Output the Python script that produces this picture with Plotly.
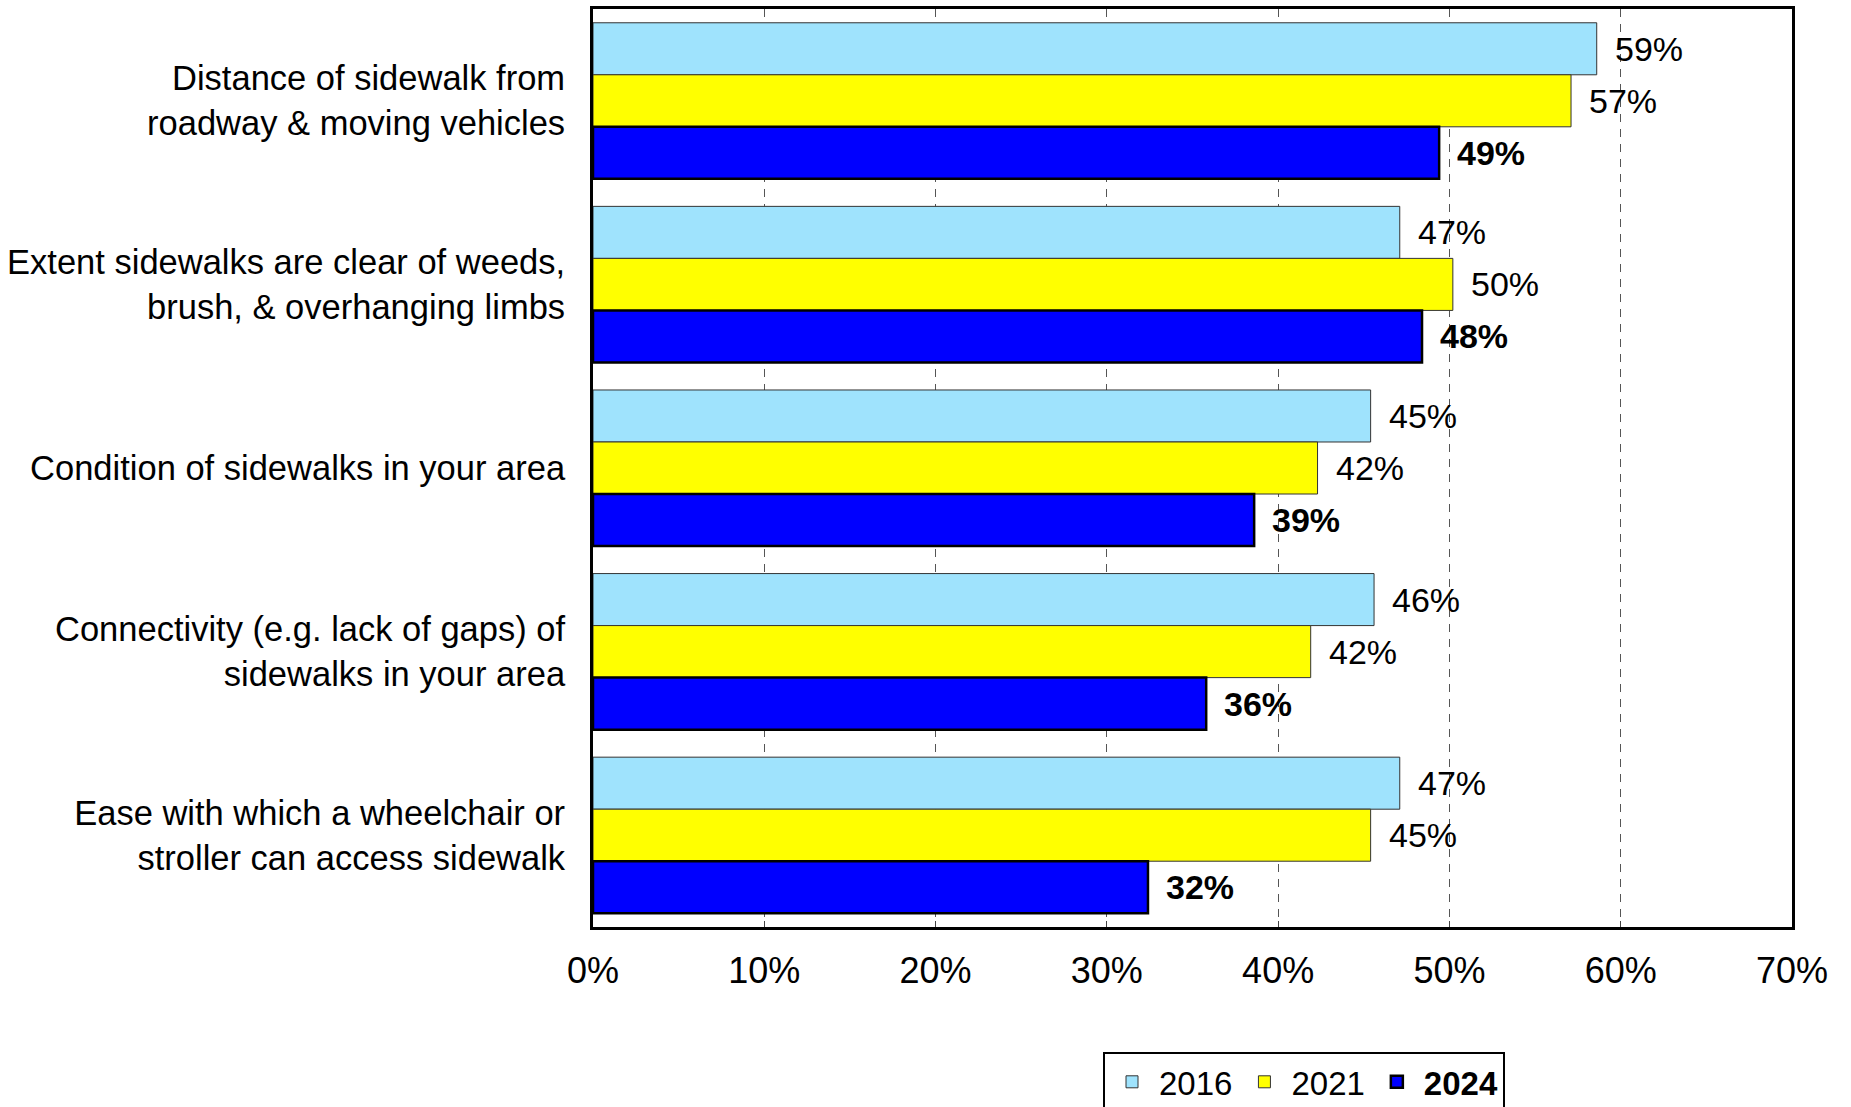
import plotly.graph_objects as go

# Survey items (top to bottom) and satisfaction shares by survey year
categories = [
    "Distance of sidewalk from<br>roadway & moving vehicles",
    "Extent sidewalks are clear of weeds,<br>brush, & overhanging limbs",
    "Condition of sidewalks in your area",
    "Connectivity (e.g. lack of gaps) of<br>sidewalks in your area",
    "Ease with which a wheelchair or<br>stroller can access sidewalk",
]
values_2016 = [58.6, 47.1, 45.4, 45.6, 47.1]
values_2021 = [57.1, 50.2, 42.3, 41.9, 45.4]
values_2024 = [49.4, 48.4, 38.6, 35.8, 32.4]

x_ticks = [0, 10, 20, 30, 40, 50, 60, 70]
x_tick_labels = ["0%", "10%", "20%", "30%", "40%", "50%", "60%", "70%"]

series = [
    ("2016", values_2016, "#9FE3FD", "#333333", 1, False),
    ("2021", values_2021, "#FFFF00", "#333333", 1, False),
    ("2024", values_2024, "#0000FF", "#000000", 2.5, True),
]

FONT = "Liberation Sans, Arial, sans-serif"
BAR_GAP = 0.15
slot = (1 - BAR_GAP) / len(series)

fig = go.Figure()
annotations = []
for i, (name, vals, fill, edge, edge_w, bold) in enumerate(series):
    fig.add_trace(go.Bar(
        name=f"<b>{name}</b>" if bold else name,
        y=categories,
        x=vals,
        orientation="h",
        marker=dict(color=fill, line=dict(color=edge, width=edge_w)),
        hoverinfo="skip",
    ))
    offset = (i - (len(series) - 1) / 2) * slot
    for j, v in enumerate(vals):
        txt = f"{v:.0f}%"
        annotations.append(dict(
            x=v, y=j + offset, xref="x", yref="y",
            text=f"<b>{txt}</b>" if bold else txt,
            showarrow=False, xanchor="left", yanchor="middle",
            xshift=16,
            font=dict(family=FONT, size=34, color="black"),
        ))

fig.update_layout(
    barmode="group",
    bargap=BAR_GAP,
    bargroupgap=0,
    width=1851,
    height=1107,
    margin=dict(l=593, r=59, t=9, b=180, autoexpand=False),
    paper_bgcolor="white",
    plot_bgcolor="white",
    font=dict(family=FONT, color="black"),
    annotations=annotations,
    showlegend=True,
    legend=dict(
        orientation="h",
        x=0.593, xanchor="center",
        y=-0.136, yanchor="top",
        font=dict(family=FONT, size=33, color="black"),
        bordercolor="black", borderwidth=2,
        bgcolor="white",
        traceorder="normal",
        itemwidth=44,
        tracegroupgap=0,
    ),
)

fig.update_xaxes(
    range=[0, 70],
    tickvals=x_ticks,
    ticktext=x_tick_labels,
    tickfont=dict(family=FONT, size=36, color="black"),
    showgrid=True,
    gridcolor="#555555",
    gridwidth=1,
    griddash="8px,7px",
    zeroline=False,
    showline=True,
    linecolor="black",
    linewidth=3,
    mirror=True,
    ticks="inside",
    ticklen=6,
    tickcolor="#444444",
    ticklabelstandoff=10,
)

fig.update_yaxes(
    autorange="reversed",
    tickfont=dict(family=FONT, size=34.5, color="black"),
    showgrid=False,
    showline=True,
    linecolor="black",
    linewidth=3,
    mirror=True,
    ticks="",
    ticklabelstandoff=18,
)

fig.write_html("out.html")
